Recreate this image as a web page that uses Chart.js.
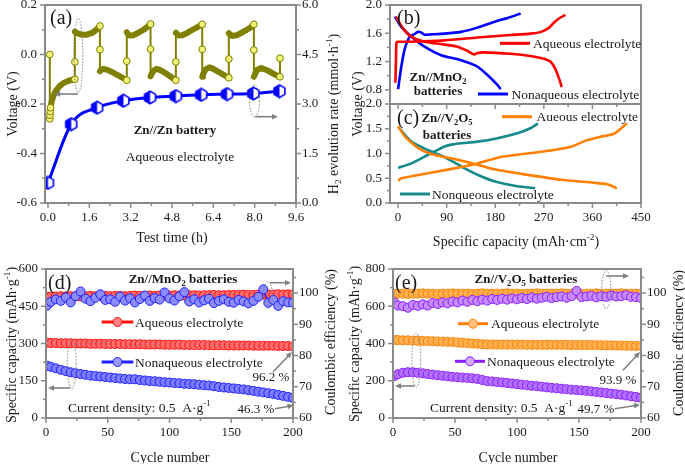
<!DOCTYPE html>
<html>
<head>
<meta charset="utf-8">
<script src="https://cdn.jsdelivr.net/npm/chart.js@4.4.1/dist/chart.umd.min.js"></script>
<style>
html, body { margin:0; padding:0; width:685px; height:464px; overflow:hidden; background:#fff; }
canvas { position:absolute; left:-30px; top:-30px; }
</style>
</head>
<body>
<canvas id="cA" width="745" height="524"></canvas>
<canvas id="cB" width="745" height="524"></canvas>
<canvas id="cC" width="745" height="524"></canvas>
<canvas id="cD" width="745" height="524"></canvas>
<canvas id="cE" width="745" height="524"></canvas>
<script>
// ================= DATA =================
// (a) Zn//Zn voltage profile (left axis) and H2 evolution rate (right axis)
const aVoltT = [0.07,0.07,0.08,0.10,0.14,0.20,0.30,0.45,0.60,0.80,1.04,
  1.04,1.08,1.15,1.30,1.50,1.70,1.85,2.01,
  2.01,2.05,2.15,2.30,2.50,2.70,2.90,3.05,
  3.05,3.08,3.15,3.30,3.50,3.70,3.85,3.97,
  3.97,4.00,4.10,4.20,4.35,4.55,4.75,4.95,
  4.95,4.98,5.05,5.20,5.40,5.60,5.80,5.97,
  5.97,6.00,6.10,6.25,6.40,6.60,6.80,7.00,
  7.00,7.03,7.12,7.30,7.50,7.70,7.85,7.97,
  7.97,8.00,8.10,8.25,8.40,8.60,8.80,8.98,
  8.98];
const aVoltV = [0.0,-0.26,-0.24,-0.215,-0.19,-0.17,-0.148,-0.128,-0.115,-0.106,-0.10,
  0.092,0.09,0.085,0.08,0.08,0.087,0.098,0.115,
  -0.068,-0.062,-0.058,-0.062,-0.072,-0.083,-0.095,-0.104,
  0.09,0.085,0.077,0.078,0.088,0.10,0.112,0.123,
  -0.088,-0.08,-0.064,-0.058,-0.063,-0.075,-0.09,-0.104,
  0.088,0.085,0.077,0.078,0.088,0.10,0.112,0.122,
  -0.09,-0.08,-0.06,-0.052,-0.058,-0.07,-0.082,-0.094,
  0.086,0.082,0.075,0.078,0.088,0.10,0.11,0.122,
  -0.09,-0.082,-0.062,-0.055,-0.06,-0.07,-0.082,-0.09,
  -0.015];
const aMarkT = [0.07,0.07,0.075,0.085,0.10,1.04,1.04,2.01,2.01,3.05,3.05,3.97,3.97,4.95,4.95,5.97,5.97,7.00,7.00,7.97,7.97,8.98,8.98];
const aMarkV = [0.0,-0.26,-0.245,-0.23,-0.215,-0.10,-0.03,0.115,0.02,-0.104,-0.027,0.123,0.022,-0.104,-0.03,0.122,0.021,-0.094,-0.018,0.122,0.018,-0.09,-0.015];
const aH2T = [0,0.9,1.9,2.92,3.95,4.95,5.93,6.93,7.95,8.96];
const aH2V = [0.61,2.39,2.89,3.10,3.20,3.24,3.28,3.30,3.32,3.39];
const aTicksX = [0,1.6,3.2,4.8,6.4,8.0,9.6];
const aTicksY = [-0.6,-0.4,-0.2,0,0.2];
const aTicksY2 = [0,1.5,3,4.5,6];

// (b) Zn//MnO2 charge/discharge curves
const bAqChgX = [-5,-4,-3,0,25,86,147,208,245,265,280,290,300,310];
const bAqChgY = [0.9,1.2,1.47,1.48,1.48,1.50,1.54,1.575,1.595,1.62,1.68,1.76,1.82,1.86];
const bAqDisX = [-4,9,25,49,86,110,129,141,147,159,208,245,270,282,291,300,303];
const bAqDisY = [1.835,1.67,1.55,1.48,1.44,1.41,1.35,1.30,1.32,1.33,1.31,1.28,1.24,1.20,1.10,0.92,0.84];
const bNaChgX = [0,6,12,21.5,30.7,36.8,43,49,61,86,116.6,147,178,208.6,227];
const bNaChgY = [0.81,1.13,1.37,1.55,1.59,1.62,1.61,1.58,1.585,1.595,1.62,1.68,1.76,1.83,1.88];
const bNaDisX = [-6,6,24.6,49,79.7,116.6,147,165.6,184,190];
const bNaDisY = [1.835,1.69,1.55,1.41,1.29,1.22,1.13,1.01,0.87,0.81];
const bTicksY = [0.8,1.2,1.6,2.0];

// (c) Zn//V2O5 charge/discharge curves
const cAqChgX = [0,6,55,104,147,190,239,282,319,350,375,385,400,409,424];
const cAqChgY = [0.45,0.50,0.60,0.70,0.80,0.93,1.00,1.06,1.13,1.27,1.34,1.36,1.40,1.47,1.61];
const cAqDisX = [0,13,37.6,68,104,135,178,239.6,301,362,387,399,405];
const cAqDisY = [1.55,1.34,1.11,0.97,0.89,0.81,0.68,0.57,0.47,0.41,0.38,0.33,0.29];
const cNaChgX = [0,24.6,55,86,104,147,184,221,245,259];
const cNaChgY = [0.71,0.80,0.97,1.14,1.19,1.24,1.31,1.41,1.51,1.61];
const cNaDisX = [0,24.6,55,86,116.6,147,178,221,254];
const cNaDisY = [1.54,1.24,1.07,0.93,0.74,0.57,0.44,0.34,0.30];
const cTicksX = [0,90,180,270,360,450];
const cTicksY = [0,0.5,1.0,1.5,2.0];

// (d) (e) cycling
const cycles = [1,4,8,12,16,20,24,28,32,36,40,44,48,52,56,60,64,68,72,76,80,84,88,92,96,100,104,108,112,116,120,124,128,132,136,140,144,148,152,156,160,164,168,172,176,180,184,188,192,196,200];
const dAqCap = [303,302,302,301,301,301,300,300,300,299,299,299,298,298,298,298,297,297,297,297,296,296,296,296,295,295,295,295,294,294,294,294,294,293,293,293,293,292,292,292,292,292,291,291,291,291,291,290,290,290,289];
const dNaCap = [210,206,200,194,189,184,180,177,174,171,169,167,165,163,161,159,157,156,156,153,151,149,148,146,144,143,141,140,138,137,136,134,132,131,128,125,123,121,119,117,115,112,109,106,103,100,97,93,89,85,81];
const dAqCE = [98.8,98.9,98.9,99.0,98.9,99.0,99.0,98.9,99.0,99.1,99.0,99.0,99.1,99.0,99.1,99.1,99.0,99.1,99.2,99.1,99.1,99.2,99.1,99.2,99.2,99.2,99.3,99.2,99.2,99.3,99.3,99.2,99.3,99.3,99.4,99.3,99.3,99.4,99.4,99.4,99.5,99.4,99.4,99.5,99.5,99.5,99.5,99.6,99.5,99.6,99.6];
const dNaCE = [96.0,97.2,98.0,97.5,98.6,97.0,99.0,100.5,98.2,97.4,98.5,99.6,97.8,98.0,97.2,98.9,97.6,98.3,97.0,98.1,99.2,97.5,98.4,97.9,100.2,98.3,97.6,99.0,100.3,97.3,98.0,97.0,97.7,98.2,96.8,97.5,98.0,97.2,96.9,97.8,97.3,96.7,97.5,98.8,101.2,96.9,97.8,95.9,97.4,97.0,96.9];
const eAqCap = [419,418,417,417,416,415,414,413,412,411,410,409,408,406,404,402,400,398,396,395,395,394,394,394,394,394,394,393,393,393,393,393,393,393,393,393,392,392,392,392,392,391,391,390,390,389,389,388,388,387,386];
const eNaCap = [225,235,243,246,245,243,240,236,233,230,227,224,221,219,217,215,213,210,204,198,196,193,191,188,185,182,179,176,173,171,168,165,162,160,157,155,152,150,148,146,143,140,137,134,131,128,125,121,117,113,109];
const eAqCE = [99.7,99.8,99.8,99.7,99.8,99.8,99.9,99.8,99.8,99.7,99.8,99.8,99.9,99.8,99.8,99.8,99.7,99.8,99.9,99.8,99.8,99.8,99.8,99.9,99.8,99.8,99.7,99.8,99.8,99.9,99.8,99.8,99.8,99.8,99.9,99.8,99.8,99.8,99.7,99.8,99.8,99.9,99.8,99.8,99.8,99.8,99.9,99.8,99.8,99.8,99.8];
const eNaCE = [97.0,96.0,95.8,95.3,96.2,95.9,96.4,96.0,96.8,96.5,97.0,96.7,97.3,97.0,97.6,97.2,97.8,97.4,97.9,97.6,98.1,97.8,98.2,97.9,98.3,98.0,98.4,98.1,98.6,98.2,98.5,98.8,98.4,98.7,98.9,98.5,99.0,100.7,98.7,98.9,99.1,98.6,99.0,98.8,99.2,98.9,99.0,99.3,98.8,98.7,98.4];
const cycTicks = [0,50,100,150,200];
const dTicksY = [0,150,300,450,600];
const eTicksY = [0,200,400,600,800];
const ceTicks = [60,70,80,90,100];

// ================= RENDERING =================
const M = 30, CW = 745, CH = 524;
const SERIF = "'Liberation Serif','Times New Roman',Times,serif";
const GRAY = '#8a8a8a', INK = '#1a1a1a';
const xy = (xs, ys) => xs.map((x, i) => ({ x: x, y: ys[i] }));
const f1 = v => v.toFixed(1), f0 = v => String(Math.round(v));

function drawRich(ctx, str, x, y, o) {
  const parts = []; const re = /([_^])\{([^}]*)\}/g; let last = 0, m;
  while ((m = re.exec(str))) {
    if (m.index > last) parts.push([str.slice(last, m.index), 0]);
    parts.push([m[2], m[1] === '_' ? 1 : 2]); last = re.lastIndex;
  }
  if (last < str.length) parts.push([str.slice(last), 0]);
  const size = o.size || 13;
  const font = md => (o.bold ? 'bold ' : '') + (md ? size * 0.66 : size).toFixed(2) + 'px ' + SERIF;
  let w = 0;
  parts.forEach(p => { ctx.font = font(p[1]); w += ctx.measureText(p[0]).width; });
  ctx.save();
  ctx.translate(x + M, y + M);
  if (o.rot) ctx.rotate(-Math.PI / 2);
  let cx = o.align === 'center' ? -w / 2 : (o.align === 'right' ? -w : 0);
  ctx.textBaseline = 'alphabetic'; ctx.fillStyle = o.color || INK;
  const base = size * 0.34;
  parts.forEach(p => {
    ctx.font = font(p[1]);
    const dy = p[1] === 1 ? size * 0.22 : (p[1] === 2 ? -size * 0.38 : 0);
    ctx.fillText(p[0], cx, base + dy);
    cx += ctx.measureText(p[0]).width;
  });
  ctx.restore();
}

function drawDeco(ch, axes, deco) {
  const ctx = ch.ctx, ca = ch.chartArea;
  ctx.save();
  ctx.strokeStyle = GRAY; ctx.lineWidth = 1.5; ctx.setLineDash([]);
  axes.forEach(ax => {
    const s = ch.scales[ax.id];
    const mark = (v, len) => {
      const p = s.getPixelForValue(v); ctx.beginPath();
      if (ax.pos === 'bottom') { ctx.moveTo(p, ca.bottom); ctx.lineTo(p, ca.bottom + len); }
      else if (ax.pos === 'left') { ctx.moveTo(ca.left, p); ctx.lineTo(ca.left - len, p); }
      else { ctx.moveTo(ca.right, p); ctx.lineTo(ca.right + len, p); }
      ctx.stroke();
    };
    ax.ticks.forEach(v => mark(v, 5));
    (ax.minor || []).forEach(v => mark(v, 3));
  });
  ctx.lineWidth = 2;
  ctx.strokeRect(ca.left, ca.top, ca.right - ca.left, ca.bottom - ca.top);
  // dotted ellipses
  (deco.ellipses || []).forEach(e => {
    ctx.save(); ctx.strokeStyle = '#777'; ctx.lineWidth = 0.9; ctx.setLineDash([1.5, 1.5]);
    ctx.beginPath(); ctx.ellipse(e[0] + M, e[1] + M, e[2], e[3], 0, 0, Math.PI * 2); ctx.stroke(); ctx.restore();
  });
  // arrows
  (deco.arrows || []).forEach(a => {
    const x1 = a[0] + M, y1 = a[1] + M, x2 = a[2] + M, y2 = a[3] + M;
    const ang = Math.atan2(y2 - y1, x2 - x1), L = 6, W = 2.8;
    ctx.save(); ctx.strokeStyle = '#808080'; ctx.fillStyle = '#808080'; ctx.lineWidth = 1.6;
    ctx.beginPath(); ctx.moveTo(x1, y1); ctx.lineTo(x2 - L * 0.8 * Math.cos(ang), y2 - L * 0.8 * Math.sin(ang)); ctx.stroke();
    ctx.beginPath(); ctx.moveTo(x2, y2);
    ctx.lineTo(x2 - L * Math.cos(ang) + W * Math.sin(ang), y2 - L * Math.sin(ang) - W * Math.cos(ang));
    ctx.lineTo(x2 - L * Math.cos(ang) - W * Math.sin(ang), y2 - L * Math.sin(ang) + W * Math.cos(ang));
    ctx.closePath(); ctx.fill(); ctx.restore();
  });
  // legend samples
  (deco.legends || []).forEach(l => {
    ctx.save(); ctx.strokeStyle = l.color; ctx.lineWidth = l.w || 3; ctx.lineCap = 'butt';
    ctx.beginPath(); ctx.moveTo(l.x1 + M, l.y + M); ctx.lineTo(l.x2 + M, l.y + M); ctx.stroke();
    if (l.fill) {
      ctx.beginPath(); ctx.arc((l.x1 + l.x2) / 2 + M, l.y + M, 4.5, 0, Math.PI * 2);
      ctx.fillStyle = l.fill; ctx.fill(); ctx.lineWidth = 1; ctx.stroke();
    }
    ctx.restore();
  });
  (deco.texts || []).forEach(t => drawRich(ctx, t[0], t[1], t[2], t[3] || {}));
  ctx.restore();
}

function build(id, area, axes, datasets, deco) {
  const scales = {}; let lw = 0, rw = 0, bh = 0;
  axes.forEach(ax => {
    const shown = ax.show !== false;
    if (shown) { if (ax.pos === 'left') lw = ax.size; else if (ax.pos === 'right') rw = ax.size; else bh = ax.size; }
    scales[ax.id] = {
      type: 'linear', position: ax.pos, min: ax.min, max: ax.max, display: shown,
      grid: { display: false, drawTicks: false }, border: { display: false },
      ticks: { autoSkip: false, maxRotation: 0, minRotation: 0, padding: ax.pad, color: INK,
               font: { family: SERIF, size: 13 }, callback: v => ax.fmt(v) },
      afterBuildTicks: s => { s.ticks = ax.ticks.map(v => ({ value: v })); },
      afterFit: s => { if (ax.pos === 'bottom') s.height = ax.size; else s.width = ax.size; }
    };
  });
  return new Chart(document.getElementById(id), {
    type: 'line',
    data: { datasets: datasets },
    options: {
      responsive: false, animation: false, events: [],
      layout: { padding: { left: area.L + M - lw, right: CW - area.R - M - rw, top: area.T + M, bottom: CH - area.B - M - bh } },
      scales: scales,
      plugins: { legend: { display: false }, tooltip: { enabled: false } }
    },
    plugins: [{ id: 'deco_' + id, afterDraw: ch => drawDeco(ch, axes, deco) }]
  });
}

function hexMarker() {
  const s = 15, c = document.createElement('canvas'); c.width = s; c.height = s;
  const g = c.getContext('2d'); const r = 6.3, cx = s / 2, cy = s / 2;
  g.beginPath();
  for (let k = 0; k < 6; k++) {
    const a = -Math.PI / 2 + k * Math.PI / 3;
    const px = cx + r * Math.cos(a), py = cy + r * Math.sin(a);
    if (k) g.lineTo(px, py); else g.moveTo(px, py);
  }
  g.closePath(); g.fillStyle = '#ffffff'; g.fill();
  g.save(); g.clip(); g.fillStyle = '#0000ff'; g.fillRect(0, 0, cx, s); g.restore();
  g.lineWidth = 1.6; g.strokeStyle = '#0000ff'; g.stroke();
  return c;
}

// ---------- Panel (a)
build('cA', { L: 45, R: 296, T: 5, B: 203 }, [
  { id: 'x', pos: 'bottom', min: -0.116, max: 9.6, ticks: aTicksX, minor: [0.8,2.4,4.0,5.6,7.2,8.8], fmt: f1, size: 30, pad: 7 },
  { id: 'y', pos: 'left', min: -0.6, max: 0.2, ticks: aTicksY, minor: [-0.5,-0.3,-0.1,0.1], fmt: f1, size: 45, pad: 8 },
  { id: 'y2', pos: 'right', min: 0, max: 6, ticks: aTicksY2, minor: [0.75,2.25,3.75,5.25], fmt: f1, size: 40, pad: 6 }
], [
  { data: xy(aH2T, aH2V), yAxisID: 'y2', borderColor: '#0000ff', borderWidth: 3, cubicInterpolationMode: 'monotone',
    pointStyle: hexMarker(), pointRadius: 6 },
  { data: xy(aMarkT, aMarkV), yAxisID: 'y', showLine: false, pointRadius: 3.4, pointBorderWidth: 1,
    pointBackgroundColor: '#f2f27a', pointBorderColor: '#808000' },
  { data: xy(aVoltT, aVoltV), yAxisID: 'y', borderColor: '#808000', borderWidth: 6, pointRadius: 0,
    borderCapStyle: 'round', borderJoinStyle: 'round',
    segment: { borderWidth: c => (Math.abs(c.p0.parsed.x - c.p1.parsed.x) < 1e-9 ? 2 : 6) } }
], {
  ellipses: [[78.3, 55.5, 4.5, 37], [254.5, 101, 5, 16]],
  arrows: [[78, 94, 54, 94], [255, 116.7, 278, 116.7]],
  texts: [
    ['(a)', 50, 17, { size: 20 }],
    ['Zn//Zn battery', 175, 130, { size: 13, bold: true, align: 'center' }],
    ['Aqueous electrolyte', 180, 156, { size: 13.5, align: 'center' }],
    ['Voltage (V)', 12, 104, { size: 14, rot: true, align: 'center' }],
    ['H_{2} evolution rate (mmol·h^{-1})', 333, 114, { size: 14, rot: true, align: 'center' }],
    ['Test time (h)', 172, 237, { size: 14, align: 'center' }]
  ]
});

// ---------- Panel (b)
build('cB', { L: 390, R: 641, T: 5, B: 104 }, [
  { id: 'x', pos: 'bottom', min: -15, max: 450, show: false, ticks: cTicksX, minor: [45,135,225,315,405], fmt: f0, size: 0, pad: 7 },
  { id: 'y', pos: 'left', min: 0.6, max: 2.0, ticks: bTicksY, minor: [1.0,1.4,1.8], fmt: f1, size: 45, pad: 8 }
], [
  { data: xy(bAqChgX, bAqChgY), borderColor: '#ff0000', borderWidth: 2.6, pointRadius: 0, tension: 0.2 },
  { data: xy(bAqDisX, bAqDisY), borderColor: '#ff0000', borderWidth: 2.6, pointRadius: 0, tension: 0.2 },
  { data: xy(bNaChgX, bNaChgY), borderColor: '#0000ff', borderWidth: 2.6, pointRadius: 0, tension: 0.2 },
  { data: xy(bNaDisX, bNaDisY), borderColor: '#0000ff', borderWidth: 2.6, pointRadius: 0, tension: 0.2 }
], {
  legends: [{ x1: 500, x2: 530, y: 43.3, color: '#ff0000' }, { x1: 478, x2: 508, y: 94, color: '#0000ff' }],
  texts: [
    ['(b)', 397, 17, { size: 20 }],
    ['Zn//MnO_{2}', 438, 77, { size: 13, bold: true, align: 'center' }],
    ['batteries', 438, 91, { size: 13, bold: true, align: 'center' }],
    ['Aqueous electrolyte', 533, 43.3, { size: 13.5 }],
    ['Nonaqueous electrolyte', 511.5, 94, { size: 13.5 }]
  ]
});

// ---------- Panel (c)
build('cC', { L: 390, R: 641, T: 104, B: 203 }, [
  { id: 'x', pos: 'bottom', min: -15, max: 450, ticks: cTicksX, minor: [45,135,225,315,405], fmt: f0, size: 30, pad: 7 },
  { id: 'y', pos: 'left', min: 0, max: 2.0, ticks: cTicksY, minor: [0.25,0.75,1.25,1.75], fmt: f1, size: 45, pad: 8 }
], [
  { data: xy(cAqChgX, cAqChgY), borderColor: '#ff8000', borderWidth: 2.6, pointRadius: 0, tension: 0.2 },
  { data: xy(cAqDisX, cAqDisY), borderColor: '#ff8000', borderWidth: 2.6, pointRadius: 0, tension: 0.2 },
  { data: xy(cNaChgX, cNaChgY), borderColor: '#158a8a', borderWidth: 2.6, pointRadius: 0, tension: 0.2 },
  { data: xy(cNaDisX, cNaDisY), borderColor: '#158a8a', borderWidth: 2.6, pointRadius: 0, tension: 0.2 }
], {
  legends: [{ x1: 502, x2: 532, y: 116.7, color: '#ff8000' }, { x1: 400, x2: 430, y: 194, color: '#158a8a' }],
  texts: [
    ['(c)', 397, 117, { size: 20 }],
    ['Zn//V_{2}O_{5}', 447, 118, { size: 13, bold: true, align: 'center' }],
    ['batteries', 447, 135, { size: 13, bold: true, align: 'center' }],
    ['Aueous electrolyte', 536.5, 116.7, { size: 13.5 }],
    ['Nonqueous electrolyte', 432, 194, { size: 13.5 }],
    ['Voltage (V)', 357, 104, { size: 14, rot: true, align: 'center' }],
    ['Specific capacity (mAh·cm^{-2})', 516, 241, { size: 14, align: 'center' }]
  ]
});

// ---------- Panel (d)
const ptStyle = (bc, fc) => ({ borderColor: bc, backgroundColor: fc, borderWidth: 1.5, pointRadius: 4.5,
  pointBorderWidth: 1, pointBackgroundColor: fc, pointBorderColor: bc });
build('cD', { L: 46, R: 293, T: 269, B: 418 }, [
  { id: 'x', pos: 'bottom', min: 0, max: 200, ticks: cycTicks, minor: [25,75,125,175], fmt: f0, size: 30, pad: 7 },
  { id: 'y', pos: 'left', min: 0, max: 600, ticks: dTicksY, minor: [75,225,375,525], fmt: f0, size: 45, pad: 8 },
  { id: 'y2', pos: 'right', min: 60, max: 107.7, ticks: ceTicks, minor: [65,75,85,95,105], fmt: f0, size: 40, pad: 6 }
], [
  Object.assign({ data: xy(cycles, dNaCE), yAxisID: 'y2' }, ptStyle('#2020ff', '#8c8cff')),
  Object.assign({ data: xy(cycles, dAqCE), yAxisID: 'y2' }, ptStyle('#ff1010', '#ff6c6c')),
  Object.assign({ data: xy(cycles, dAqCap), yAxisID: 'y' }, ptStyle('#ff1010', '#ff6c6c')),
  Object.assign({ data: xy(cycles, dNaCap), yAxisID: 'y' }, ptStyle('#2020ff', '#7c7cff'))
], {
  ellipses: [[71.7, 363.7, 4.5, 25], [268, 295.3, 4.5, 13.3]],
  arrows: [[70, 388, 48, 388], [270, 282.7, 291, 282.7], [273, 372, 292, 352], [275, 408.7, 293.5, 405.3]],
  legends: [{ x1: 101.7, x2: 133.3, y: 322, color: '#ff1010', fill: '#ff8080' },
            { x1: 101.7, x2: 133.3, y: 362, color: '#2020ff', fill: '#9a9aff' }],
  texts: [
    ['(d)', 48, 282, { size: 20 }],
    ['Zn//MnO_{2} batteries', 183, 279, { size: 13, bold: true, align: 'center' }],
    ['Aqueous electrolyte', 135, 322, { size: 13.5 }],
    ['Nonaqueous electrolyte', 135, 362, { size: 13.5 }],
    ['96.2 %', 271, 377, { size: 13, align: 'center' }],
    ['46.3 %', 256, 409, { size: 13, align: 'center' }],
    ['Current density: 0.5  A·g^{-1}', 68, 407, { size: 13.5 }],
    ['Specific capacity (mAh·g^{-1})', 11, 345, { size: 14, rot: true, align: 'center' }],
    ['Coulombic efficiency (%)', 330, 342, { size: 14, rot: true, align: 'center' }],
    ['Cycle number', 170, 457, { size: 14, align: 'center' }]
  ]
});

// ---------- Panel (e)
build('cE', { L: 393, R: 641, T: 269, B: 418 }, [
  { id: 'x', pos: 'bottom', min: 0, max: 200, ticks: cycTicks, minor: [25,75,125,175], fmt: f0, size: 30, pad: 7 },
  { id: 'y', pos: 'left', min: 0, max: 800, ticks: eTicksY, minor: [100,300,500,700], fmt: f0, size: 45, pad: 8 },
  { id: 'y2', pos: 'right', min: 60, max: 107.7, ticks: ceTicks, minor: [65,75,85,95,105], fmt: f0, size: 40, pad: 6 }
], [
  Object.assign({ data: xy(cycles, eNaCE), yAxisID: 'y2' }, ptStyle('#8a1cff', '#c68cff')),
  Object.assign({ data: xy(cycles, eAqCE), yAxisID: 'y2' }, ptStyle('#ff8000', '#ffb050')),
  Object.assign({ data: xy(cycles, eAqCap), yAxisID: 'y' }, ptStyle('#ff8000', '#ffb050')),
  Object.assign({ data: xy(cycles, eNaCap), yAxisID: 'y' }, ptStyle('#8a1cff', '#b070ff'))
], {
  ellipses: [[416.3, 360.3, 4.5, 26.7], [606.3, 289.5, 4.5, 19]],
  arrows: [[414.7, 386, 395, 386], [606.3, 276, 629, 276], [623, 370.3, 640, 352], [614.7, 408.7, 640, 404.7]],
  legends: [{ x1: 458, x2: 488, y: 323.7, color: '#ff8000', fill: '#ffc080' },
            { x1: 455, x2: 485, y: 361.3, color: '#8a1cff', fill: '#d4a8ff' }],
  texts: [
    ['(e)', 395, 282, { size: 20 }],
    ['Zn//V_{2}O_{5} batteries', 526, 279, { size: 13, bold: true, align: 'center' }],
    ['Aqueous electrolyte', 491, 323.7, { size: 13.5 }],
    ['Nonaqueous electrolyte', 487, 361.3, { size: 13.5 }],
    ['93.9 %', 618, 380, { size: 13, align: 'center' }],
    ['49.7 %', 596, 409, { size: 13, align: 'center' }],
    ['Current density: 0.5  A·g^{-1}', 430, 407, { size: 13.5 }],
    ['Specific capacity (mAh·g^{-1})', 354, 344, { size: 14, rot: true, align: 'center' }],
    ['Coulombic efficiency (%)', 678, 343, { size: 14, rot: true, align: 'center' }],
    ['Cycle number', 518, 457, { size: 14, align: 'center' }]
  ]
});
</script>
</body>
</html>
